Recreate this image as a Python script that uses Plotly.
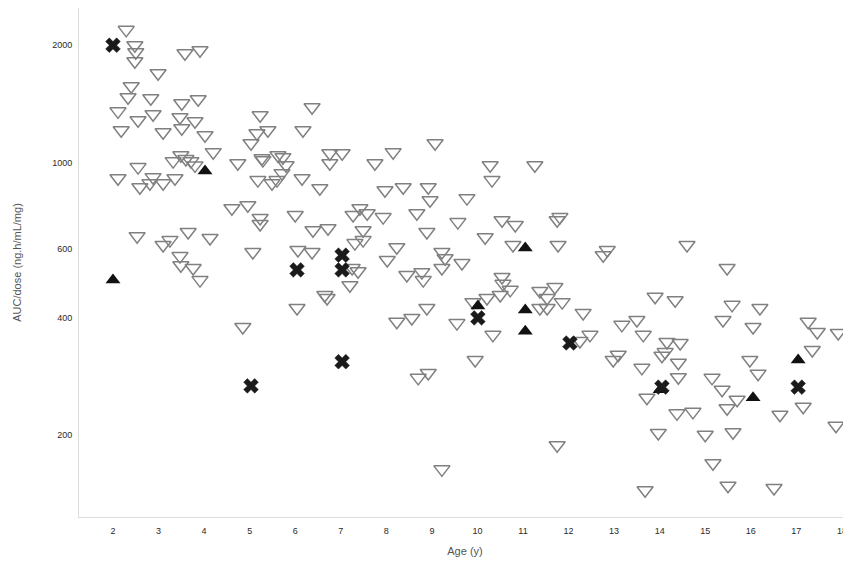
import plotly.graph_objects as go

# Open inverted triangles (age in years, AUC/dose in ng.h/mL/mg)
open_age = [2.29, 2.48, 2.50, 2.48, 2.99, 3.58, 3.91, 2.40, 2.33, 2.83, 2.11, 2.55, 2.88, 2.18, 3.10,
            3.51, 3.87, 3.47, 3.51, 3.80, 4.02, 4.20, 3.49, 3.32, 3.71, 3.60, 3.80, 2.55, 4.74, 5.23,
            5.40, 5.03, 5.16, 5.27, 5.62, 2.11, 2.59, 2.81, 3.10, 3.36, 2.53, 3.10, 3.25, 3.65, 4.13,
            3.47, 3.49, 3.76, 3.91, 4.61, 4.96, 5.23, 5.23, 5.07, 4.85, 5.18, 5.49, 5.29, 5.73, 5.80,
            5.71, 5.60, 6.15, 6.37, 6.17, 6.54, 6.76, 7.03, 6.76, 7.75, 8.15, 9.07, 7.97, 8.37, 8.92,
            8.96, 9.77, 6.00, 7.42, 7.58, 7.27, 7.93, 8.67, 9.57, 6.39, 6.72, 8.89, 7.49, 7.49, 6.06,
            6.37, 7.31, 8.23, 8.02, 9.22, 9.29, 9.66, 9.22, 8.45, 8.78, 8.81, 7.25, 7.38, 7.20, 6.65,
            6.04, 6.70, 8.23, 8.56, 8.89, 9.55, 9.90, 10.21, 10.50, 10.72, 11.37, 11.53, 11.86, 11.53,
            10.34, 9.95, 8.70, 8.92, 11.75, 9.22, 10.28, 10.32, 11.26, 10.54, 10.83, 11.75, 10.17,
            10.78, 11.77, 12.76, 12.85, 10.54, 10.56, 11.70, 11.37, 12.32, 13.17, 13.50, 12.47, 12.25,
            12.98, 13.09, 13.64, 13.61, 13.90, 14.34, 14.16, 14.12, 14.45, 14.05, 14.41, 14.41, 13.72,
            15.15, 15.37, 15.70, 15.48, 14.73, 14.38, 15.59, 15.39, 16.20, 16.05, 15.98, 16.16, 16.64,
            17.15, 17.26, 17.46, 17.35, 17.92, 17.87, 13.97, 15.00, 15.61, 15.17, 15.50, 16.51, 13.68,
            11.81, 14.60, 15.48, 2.88]
open_auc = [2190, 2000, 1918, 1819, 1694, 1907, 1941, 1569, 1470, 1462, 1353, 1284, 1330, 1210, 1196,
            1419, 1453, 1307, 1224, 1276, 1175, 1063, 1044, 1008, 1008, 1021, 983, 973, 996, 1322,
            1210, 1121, 1189, 1026, 1044, 911, 864, 885, 885, 911, 647, 614, 632, 663, 640,
            575, 545, 536, 499, 763, 777, 720, 695, 589, 378, 901, 885, 1014, 1032, 984,
            939, 901, 911, 1386, 1210, 859, 1056, 1056, 996, 996, 1063, 1121, 849, 864, 864,
            800, 810, 733, 763, 741, 733, 724, 741, 703, 670, 678, 663, 670, 632, 596,
            589, 621, 606, 562, 589, 568, 552, 536, 514, 523, 499, 536, 526, 484, 457,
            423, 449, 390, 399, 423, 387, 438, 449, 457, 471, 468, 449, 438, 423,
            361, 311, 280, 288, 188, 163, 984, 901, 984, 711, 691, 711, 643,
            614, 614, 578, 596, 508, 488, 479, 423, 411, 383, 394, 361, 348,
            311, 321, 361, 297, 452, 443, 346, 326, 344, 319, 306, 281, 249,
            280, 261, 246, 234, 229, 227, 431, 394, 423, 378, 311, 287, 225,
            236, 390, 367, 330, 365, 211, 202, 200, 203, 169, 148, 146, 144,
            724, 614, 536, 917]

# Filled upward triangles
filled_age = [2.0, 4.02, 11.05, 10.01, 11.05, 11.05, 14.01, 16.05, 17.04]
filled_auc = [499, 951, 603, 428, 418, 369, 261, 249, 311]

# X markers
cross_age = [2.0, 5.03, 6.04, 7.03, 7.03, 7.03, 10.01, 12.03, 14.05, 17.04]
cross_auc = [2000, 267, 530, 578, 530, 308, 399, 344, 265, 265]

x_ticks = list(range(2, 19))
y_ticks = [200, 400, 600, 1000, 2000]

fig = go.Figure()
fig.add_trace(go.Scatter(
    x=open_age, y=open_auc, mode="markers",
    marker=dict(symbol="triangle-down-open", size=14, color="#808080", line=dict(width=1.5, color="#808080")),
    showlegend=False, cliponaxis=False))
fig.add_trace(go.Scatter(
    x=filled_age, y=filled_auc, mode="markers",
    marker=dict(symbol="triangle-up", size=13, color="#111111", line=dict(width=0)),
    showlegend=False))
fig.add_trace(go.Scatter(
    x=cross_age, y=cross_auc, mode="markers",
    marker=dict(symbol="x", size=13, color="#1a1a1a", line=dict(width=0.5, color="#1a1a1a")),
    showlegend=False))

axis_font = dict(family="Liberation Sans, Arial, sans-serif", size=9, color="#2a2a2a")
title_font = dict(family="Liberation Sans, Arial, sans-serif", size=11, color="#555555")

# The page body keeps an 8 px margin, so the figure is sized to fill the rest of the window.
fig.update_layout(
    width=843, height=558,
    margin=dict(l=71, r=0, t=0, b=49),
    paper_bgcolor="white", plot_bgcolor="white",
    xaxis=dict(range=[1.254, 18.2], tickmode="array", tickvals=x_ticks,
               ticktext=[str(v) for v in x_ticks], showgrid=False, zeroline=False,
               showline=True, linecolor="#dddddd", linewidth=1, ticks="", automargin=False,
               ticklabelstandoff=5,
               tickfont=axis_font, title=dict(text="Age (y)", font=title_font, standoff=12)),
    yaxis=dict(type="log", range=[2.0899, 3.3966], tickmode="array", tickvals=y_ticks,
               ticktext=[str(v) for v in y_ticks], showgrid=False, zeroline=False,
               showline=True, linecolor="#dddddd", linewidth=1, ticks="", automargin=False,
               ticklabelstandoff=4,
               tickfont=axis_font, title=dict(text="AUC/dose (ng.h/mL/mg)", font=title_font, standoff=28)),
)

fig.write_html("out.html")
